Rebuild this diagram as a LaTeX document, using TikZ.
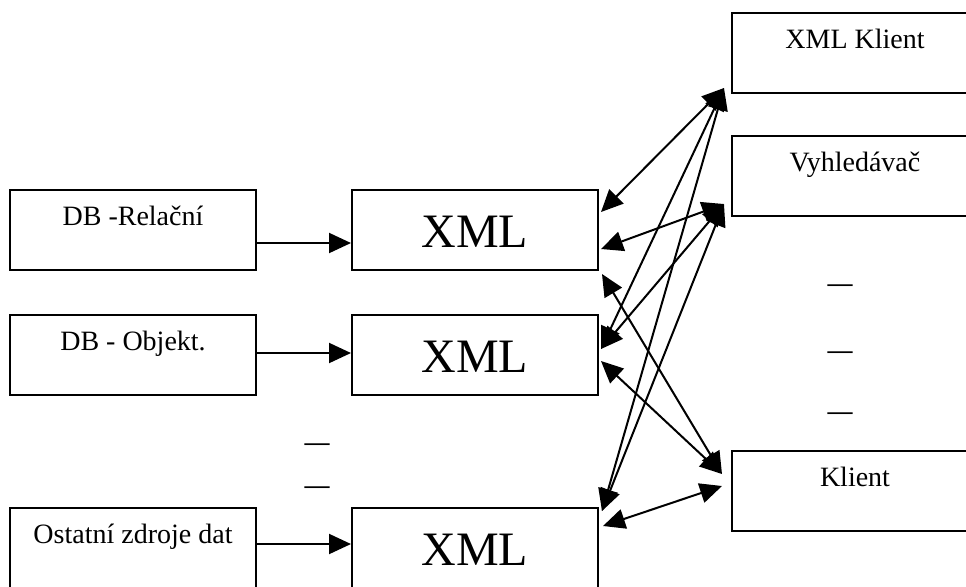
\documentclass[tikz,border=0pt]{standalone}
\usepackage{fontspec}
\setmainfont{Liberation Serif}
\usetikzlibrary{arrows.meta}
\newcommand{\bx}{\fontsize{14}{17}\selectfont}
\newcommand{\bX}{\fontsize{24}{29}\selectfont}

\begin{document}
\begin{tikzpicture}[x=0.5pt,y=-0.5pt,>={Triangle[length=11pt,width=10pt]},
  box/.style={draw,line width=1pt,inner sep=0pt,minimum width=123pt,
    text height=17.5pt,text depth=22.5pt,anchor=base,font=\bx},
  xmlbox/.style={box,text height=28.5pt,text depth=11.5pt,font=\bX},
  dots/.style={inner sep=0pt,anchor=base,font=\fontsize{12.5}{15}\selectfont\bfseries},
  link/.style={line width=1pt,<->},
  feed/.style={line width=1pt,->}]
%  \draw[gray] (0,0) rectangle (966,586);
  \path[use as bounding box] (0,0) rectangle (966,586);
  % zdroje
  \node[box] (rel) at (133,225) {DB -Relační};
  \node[box] (obj) at (133,350) {DB - Objekt.};
  \node[box] (ost) at (133,543) {Ostatní zdroje dat};
  \node[dots] (d1) at (317,450) {—};
  \node[dots] (d2) at (317,493) {—};
  % XML
  \node[xmlbox] (xml1) at (475,247) {XML};
  \node[xmlbox] (xml2) at (475,372) {XML};
  \node[xmlbox] (xml3) at (475,565) {XML};
  % klienti
  \node[box] (xk) at (855,48) {XML Klient};
  \node[box] (vyh) at (855,171) {Vyhledávač};
  \node[box] (kl) at (855,486) {Klient};
  \node[dots] (d3) at (840,291) {—};
  \node[dots] (d4) at (840,358) {—};
  \node[dots] (d5) at (840,419) {—};
  \draw[feed] ([yshift=-6.5pt]rel.east) -- ([yshift=-6.5pt]xml1.west);
  \draw[feed] ([yshift=1pt]obj.east) -- ([yshift=1pt]xml2.west);
  \draw[feed] ([yshift=2pt]ost.east) -- ([yshift=2pt]xml3.west);
  \draw[link] ([xshift=1pt,yshift=-11.5pt]xml1.north east) -- ([xshift=-3.5pt,yshift=3pt]xk.south west);
  \draw[link] ([xshift=1pt,yshift=-30pt]xml1.north east) -- ([xshift=-3.5pt,yshift=6.5pt]vyh.south west);
  \draw[link] ([xshift=1.5pt,yshift=-1.5pt]xml1.south east) -- ([xshift=-4.5pt,yshift=-12pt]kl.north west);
  \draw[link] ([xshift=1pt,yshift=3pt]xml2.east) -- ([xshift=-3.5pt,yshift=3pt]xk.south west);
  \draw[link] ([xshift=1pt,yshift=3pt]xml2.east) -- ([xshift=-3.5pt,yshift=6.5pt]vyh.south west);
  \draw[link] ([xshift=1pt,yshift=-3pt]xml2.east) -- ([xshift=-4.5pt,yshift=-12pt]kl.north west);
  \draw[link] ([xshift=1.5pt,yshift=-2pt]xml3.north east) -- ([xshift=-3.5pt,yshift=3pt]xk.south west);
  \draw[link] ([xshift=1.5pt,yshift=-2pt]xml3.north east) -- ([xshift=-3.5pt,yshift=6.5pt]vyh.south west);
  \draw[link] ([xshift=2pt,yshift=-9.5pt]xml3.north east) -- ([xshift=-4.5pt,yshift=-18pt]kl.north west);
\end{tikzpicture}
\end{document}
